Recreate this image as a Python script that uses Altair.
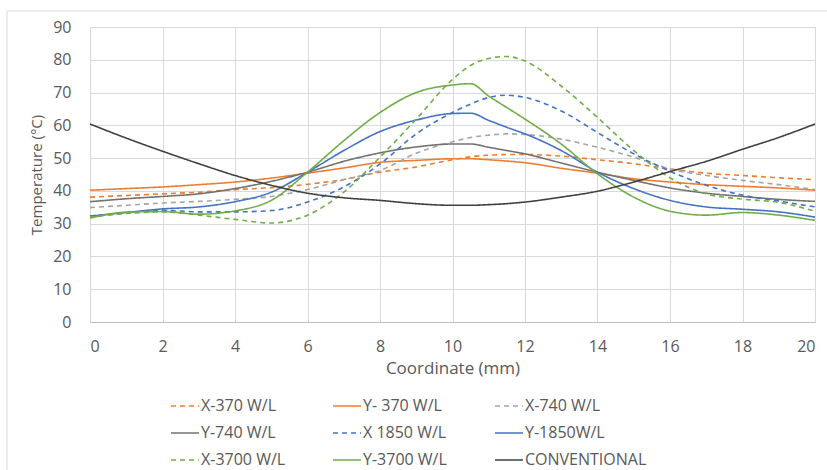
import altair as alt
import pandas as pd

coord_mm = [0, 1, 2, 3, 4, 5, 6, 7, 8, 9, 10, 10.5, 11, 11.5, 12, 13, 14, 15, 16, 17, 18, 19, 20]

x_370 = [38.1, 38.6, 39.1, 39.6, 40.4, 41.0, 42.0, 43.5, 45.7, 47.3, 49.5, 50.4, 50.9, 51.1, 51.1, 50.6, 49.5, 48.3, 46.7, 45.4, 44.7, 44.0, 43.4]
y_370 = [40.2, 40.7, 41.2, 41.9, 42.7, 43.9, 45.4, 47.0, 48.7, 49.3, 49.8, 49.8, 49.5, 49.1, 48.6, 46.9, 45.4, 43.7, 42.7, 41.9, 41.4, 40.9, 40.2]
x_740 = [34.9, 35.6, 36.3, 36.8, 37.4, 38.3, 40.4, 43.4, 46.2, 51.5, 55.0, 56.3, 57.0, 57.4, 57.2, 55.8, 53.3, 50.3, 46.7, 44.7, 43.2, 41.9, 40.4]
y_740 = [36.7, 37.6, 38.3, 39.1, 40.7, 42.9, 45.7, 49.0, 51.6, 53.4, 54.3, 54.3, 53.3, 52.3, 51.3, 48.5, 45.7, 43.2, 40.9, 39.3, 38.3, 37.4, 36.8]
x_1850 = [32.3, 33.3, 34.1, 33.6, 33.6, 34.0, 36.6, 41.2, 48.2, 57.4, 63.9, 66.5, 68.5, 69.2, 68.5, 64.4, 57.8, 51.3, 46.0, 41.7, 38.7, 36.9, 35.1]
y_1850 = [32.3, 33.4, 34.5, 35.1, 36.7, 39.6, 45.7, 52.3, 58.1, 61.6, 63.6, 63.7, 61.5, 59.4, 57.4, 52.3, 45.7, 40.7, 37.1, 35.1, 34.4, 33.6, 32.0]
x_3700 = [32.0, 33.1, 33.6, 32.6, 31.3, 30.2, 32.6, 39.6, 50.3, 61.9, 74.0, 78.3, 80.4, 81.0, 79.6, 72.0, 62.4, 52.3, 44.0, 39.1, 37.5, 36.5, 33.8]
y_3700 = [31.7, 33.5, 33.7, 32.9, 33.9, 37.1, 45.7, 55.3, 63.9, 70.0, 72.3, 72.7, 68.9, 65.4, 61.9, 54.3, 45.2, 38.1, 33.8, 32.6, 33.4, 32.6, 31.0]
conventional = [60.4, 56.1, 52.1, 48.3, 44.7, 41.7, 39.3, 37.9, 37.1, 36.1, 35.6, 35.6, 35.8, 36.1, 36.6, 38.1, 39.9, 42.7, 45.9, 49.0, 52.7, 56.3, 60.4]

series_names = ["X-370 W/L", "Y- 370 W/L", "X-740 W/L", "Y-740 W/L", "X 1850 W/L",
                "Y-1850W/L", "X-3700 W/L", "Y-3700 W/L", "CONVENTIONAL"]
series_values = [x_370, y_370, x_740, y_740, x_1850, y_1850, x_3700, y_3700, conventional]
series_colors = ["#ED7D31", "#ED7D31", "#A5A5A5", "#767171", "#4472C4",
                 "#4472C4", "#70AD47", "#70AD47", "#404040"]
series_dashes = [[5, 4], [1, 0], [5, 4], [1, 0], [5, 4], [1, 0], [5, 4], [1, 0], [1, 0]]
series_widths = [1.6, 1.6, 1.6, 1.6, 1.6, 1.6, 1.6, 1.6, 3.0]

rows = []
for i, (name, vals) in enumerate(zip(series_names, series_values)):
    for xv, yv in zip(coord_mm, vals):
        rows.append({"series": name, "order": i, "coord": xv, "temp": yv})
df = pd.DataFrame(rows)

FONT = "Open Sans"
TXT = "#595959"

legend = alt.Legend(
    title=None, orient="none", legendX=80, legendY=364, columns=3, direction="horizontal",
    gridAlign="all", columnPadding=6, rowPadding=4,
    symbolType="stroke", symbolSize=784, labelOffset=1,
    labelFont=FONT, labelFontSize=16, labelColor=TXT, labelLimit=300,
)

lines = alt.Chart(df).mark_line(interpolate="monotone").encode(
    x=alt.X("coord:Q", scale=alt.Scale(domain=[0, 20], nice=False),
            axis=alt.Axis(values=list(range(0, 21, 2)), title="Coordinate (mm)",
                          grid=True, gridColor="#D9D9D9", domainColor="#BFBFBF",
                          ticks=False, labelPadding=16, labelFont=FONT, labelFontSize=16,
                          labelColor=TXT, titleFont=FONT, titleFontSize=17,
                          titleFontWeight="normal", titleColor=TXT, titlePadding=6)),
    y=alt.Y("temp:Q", scale=alt.Scale(domain=[0, 90], nice=False),
            axis=alt.Axis(values=list(range(0, 91, 10)), title="Temperature (°C)",
                          grid=True, gridColor="#D9D9D9", domain=False,
                          ticks=False, labelPadding=19, labelFont=FONT, labelFontSize=16,
                          labelColor=TXT, titleFont=FONT, titleFontSize=15,
                          titleFontWeight="normal", titleColor=TXT, titlePadding=8)),
    color=alt.Color("series:N", scale=alt.Scale(domain=series_names, range=series_colors),
                    legend=legend),
    strokeDash=alt.StrokeDash("series:N", scale=alt.Scale(domain=series_names, range=series_dashes),
                              legend=legend),
    strokeWidth=alt.StrokeWidth("series:N", scale=alt.Scale(domain=series_names, range=series_widths),
                                legend=legend),
    order="order:Q",
)

frame = alt.Chart(pd.DataFrame({"a": [0]})).mark_rect(
    fill="white", fillOpacity=0, stroke="#D9D9D9", strokeWidth=1
).encode(x=alt.value(-83), x2=alt.value(760), y=alt.value(-16), y2=alt.value(470))

chart = alt.layer(frame, lines).properties(
    width=725, height=295,
    padding={"left": 90, "top": 27, "right": 12, "bottom": 148},
    autosize=alt.AutoSizeParams(type="none"),
).configure_view(stroke=None).configure(background="white")

chart.save("out.html", embed_options={"renderer": "svg", "actions": False})
